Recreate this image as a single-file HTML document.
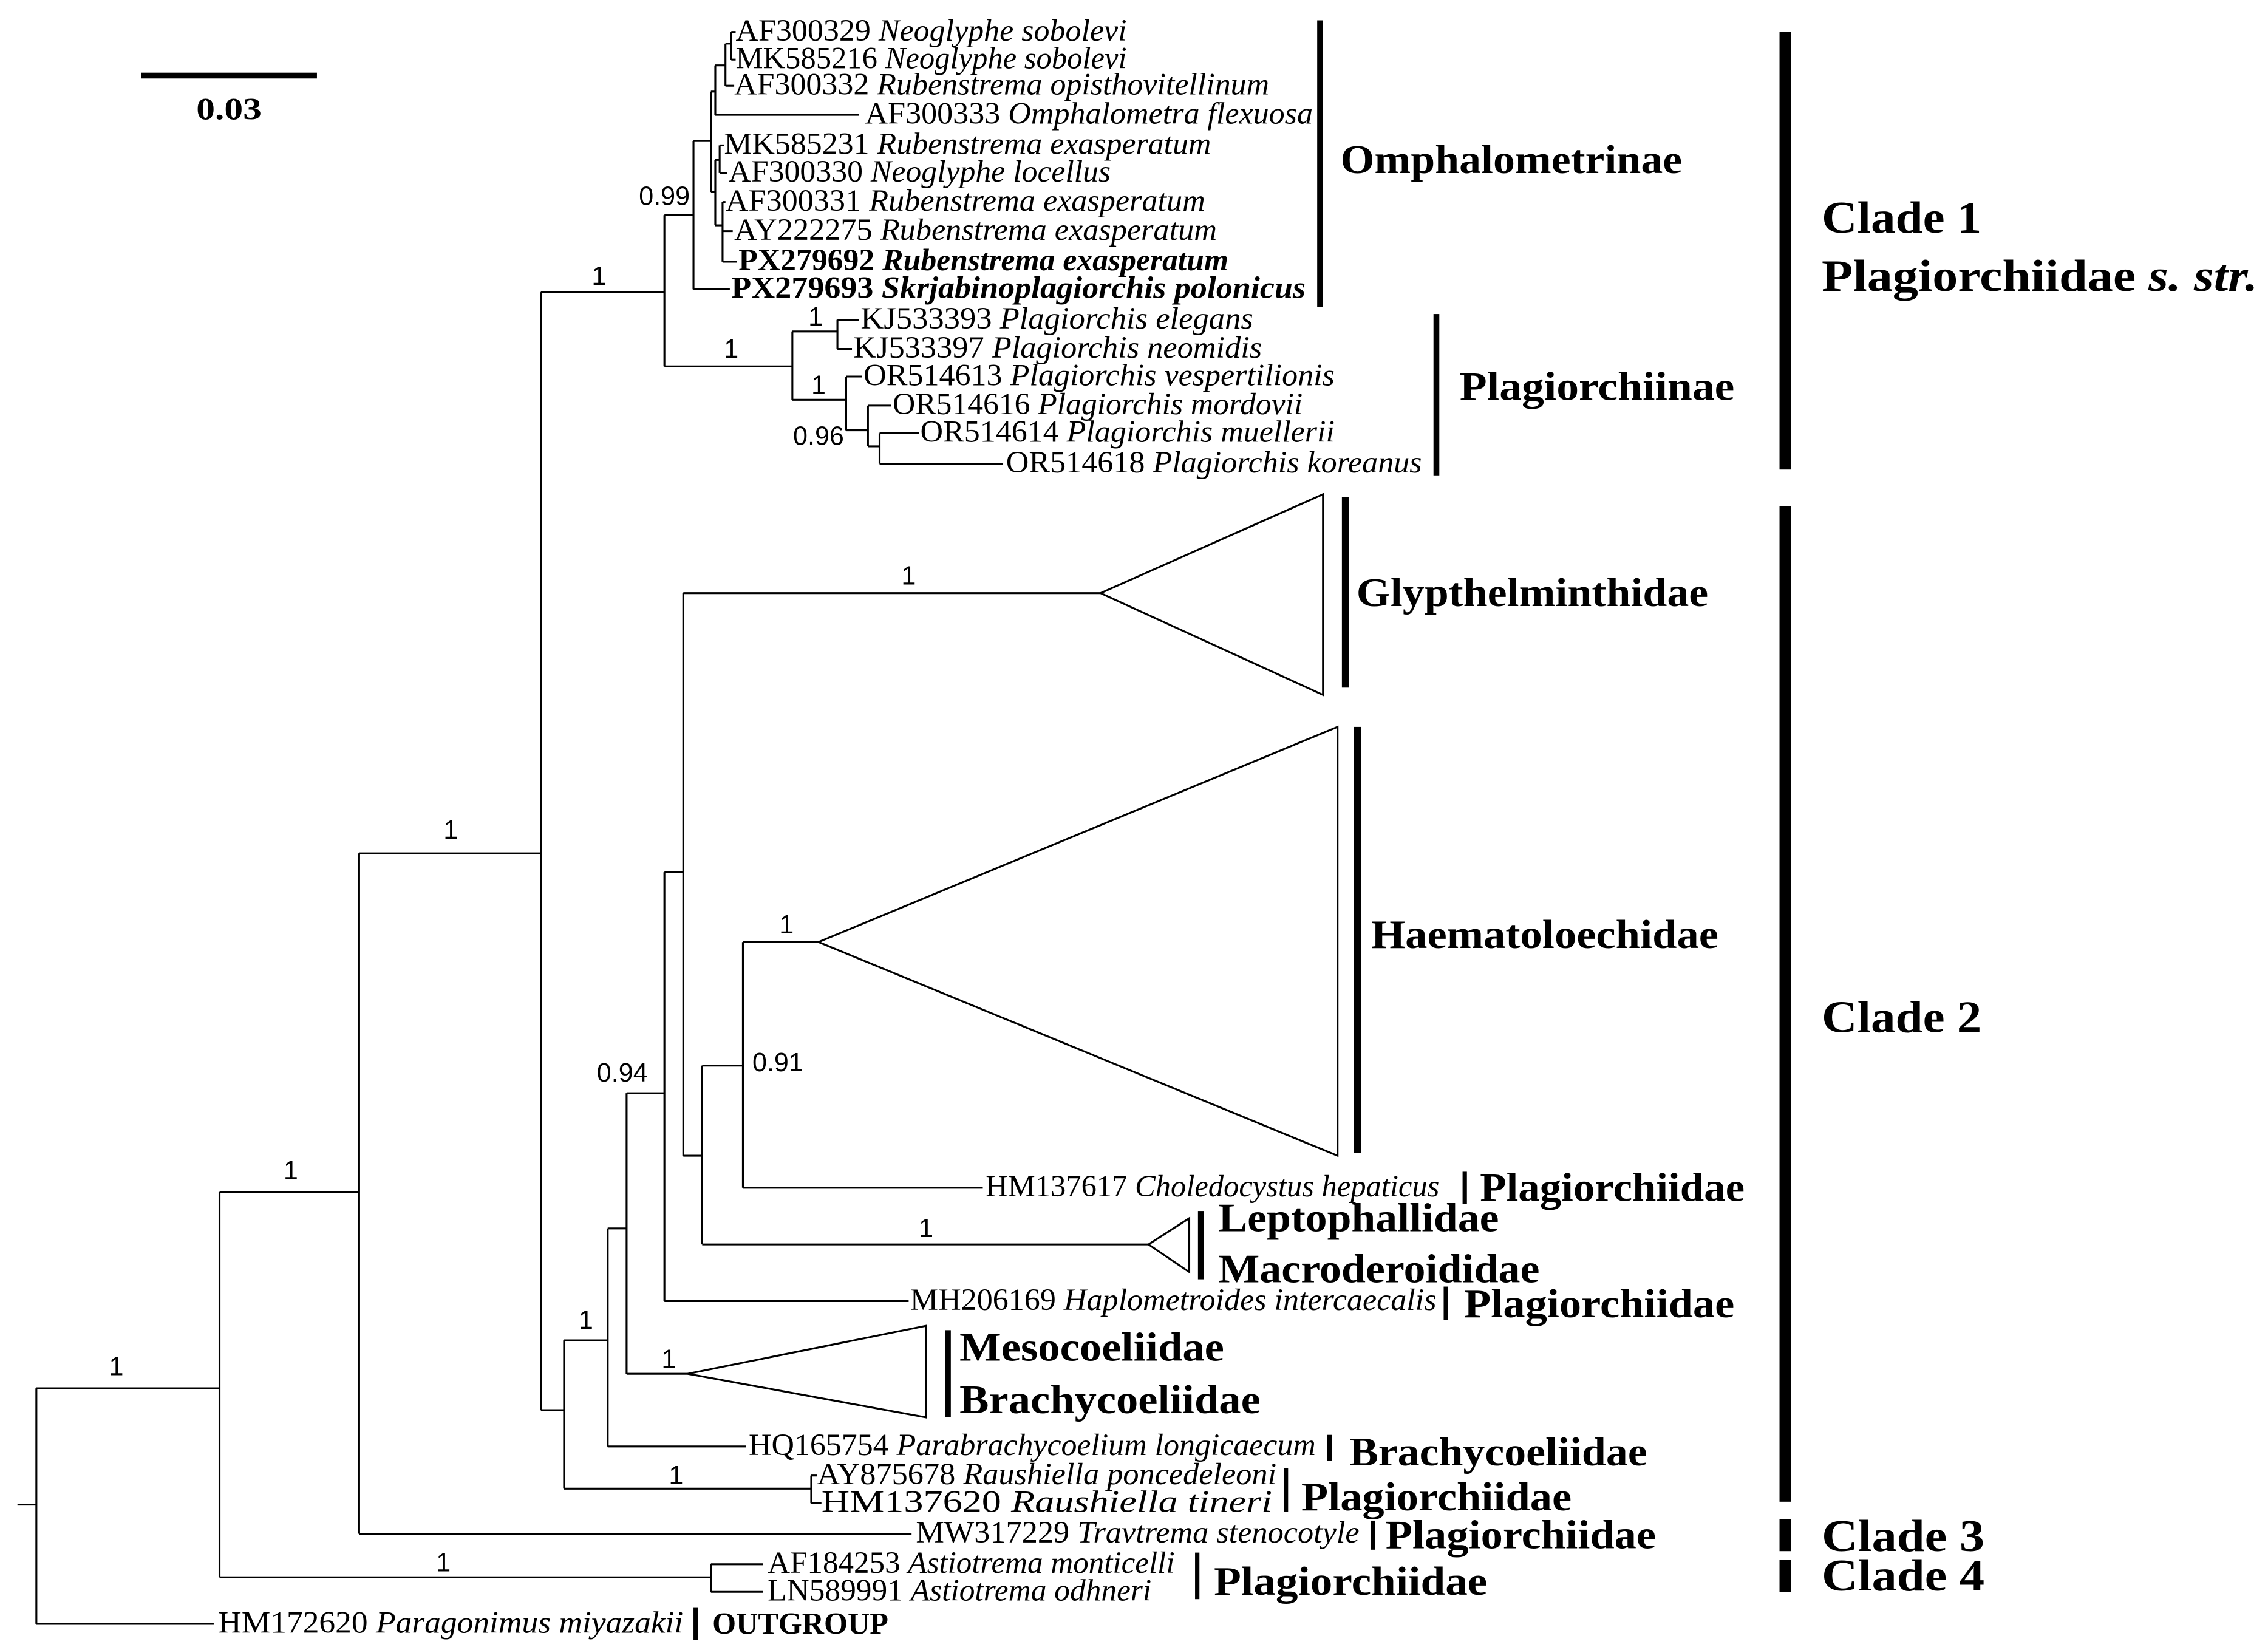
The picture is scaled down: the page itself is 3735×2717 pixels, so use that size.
<!DOCTYPE html>
<html><head><meta charset="utf-8"><style>
html,body{margin:0;padding:0;background:#fff}
svg{display:block}
.t{font-family:"Liberation Serif",serif;font-size:21px}
.i{font-style:italic}
.b{font-weight:bold}
.s{font-family:"Liberation Sans",sans-serif;font-size:18px}
.L{font-family:"Liberation Serif",serif;font-weight:bold;font-size:28px}
.C{font-family:"Liberation Serif",serif;font-weight:bold;font-size:31px}
</style></head><body>
<svg width="3735" height="2717" viewBox="0 0 1560 1135" preserveAspectRatio="none" xmlns="http://www.w3.org/2000/svg">
<g stroke="#000" stroke-width="1.3" fill="none">
<path d="M12 1035H25M25 955V1117M25 1117H147M25 955H151"/>
<path d="M151 820V1085M151 1085H489M489 1076V1095M489 1076H525M489 1095H525"/>
<path d="M151 820H247M247 587V1055M247 1055H627M247 587H372M372 201V970"/>
<path d="M372 201H457M457 148V252M457 148H477M477 97V199M477 199H502M477 97H489"/>
<path d="M489 63V132M489 63H492M492 45V79M492 79H591M492 45H499M499 30V59M499 59H505M499 30H503M503 22V41M503 22H506M503 41H506"/>
<path d="M489 132H492M492 110V155M492 110H495M495 100V119M495 100H498M495 119H500M492 155H497M497 139V180M497 139H499M497 159H504M497 180H507"/>
<path d="M457 252H545M545 228V275M545 228H576M576 220V240M576 220H591M576 240H586M545 275H582M582 259V296M582 259H593M582 296H597M597 279V307M597 279H613M597 307H605M605 298V319M605 298H632M605 319H690"/>
<path d="M372 970H388M388 922V1024M388 1024H558M558 1015V1034M558 1015H562M558 1034H565"/>
<path d="M388 922H418M418 845V995M418 995H513M418 845H431M431 752V945M431 945H473"/>
<path d="M431 752H457M457 600V895M457 895H625M457 600H470M470 408V795M470 408H757M470 795H483M483 733V856M483 856H790M483 733H511M511 648V817M511 817H676M511 648H563"/>
<path d="M757 408L910 340V478Z M563 648L920 500V795Z M790 856L818 838V875Z M473 945L637 912V975Z"/>
</g>
<g fill="#000">
<rect x="97" y="50" width="121" height="4"/>
<rect x="906" y="14" width="4" height="197"/>
<rect x="986" y="216" width="4" height="111"/>
<rect x="1224" y="22" width="8" height="301"/>
<rect x="1224" y="348" width="8" height="685"/>
<rect x="1224" y="1045" width="8" height="22"/>
<rect x="1224" y="1073" width="8" height="22"/>
<rect x="923" y="342" width="5" height="131"/>
<rect x="931" y="500" width="5" height="293"/>
<rect x="1006" y="806" width="3" height="22"/>
<rect x="824" y="833" width="4" height="47"/>
<rect x="993" y="885" width="3" height="23"/>
<rect x="650" y="915" width="4" height="60"/>
<rect x="913" y="987" width="3" height="18"/>
<rect x="883" y="1010" width="3" height="30"/>
<rect x="943" y="1046" width="3" height="20"/>
<rect x="822" y="1068" width="3" height="32"/>
<rect x="477" y="1106" width="3" height="22"/>
</g>
<g class="t">
<text x="506" y="28" textLength="269" lengthAdjust="spacingAndGlyphs">AF300329 <tspan class="i">Neoglyphe sobolevi</tspan></text>
<text x="506" y="47" textLength="269" lengthAdjust="spacingAndGlyphs">MK585216 <tspan class="i">Neoglyphe sobolevi</tspan></text>
<text x="505" y="65" textLength="368" lengthAdjust="spacingAndGlyphs">AF300332 <tspan class="i">Rubenstrema opisthovitellinum</tspan></text>
<text x="595" y="85" textLength="308" lengthAdjust="spacingAndGlyphs">AF300333 <tspan class="i">Omphalometra flexuosa</tspan></text>
<text x="498" y="106" textLength="335" lengthAdjust="spacingAndGlyphs">MK585231 <tspan class="i">Rubenstrema exasperatum</tspan></text>
<text x="501" y="125" textLength="263" lengthAdjust="spacingAndGlyphs">AF300330 <tspan class="i">Neoglyphe locellus</tspan></text>
<text x="499" y="145" textLength="330" lengthAdjust="spacingAndGlyphs">AF300331 <tspan class="i">Rubenstrema exasperatum</tspan></text>
<text x="505" y="165" textLength="332" lengthAdjust="spacingAndGlyphs">AY222275 <tspan class="i">Rubenstrema exasperatum</tspan></text>
<text x="508" y="186" class="b" textLength="337" lengthAdjust="spacingAndGlyphs">PX279692 <tspan class="i">Rubenstrema exasperatum</tspan></text>
<text x="503" y="205" class="b" textLength="395" lengthAdjust="spacingAndGlyphs">PX279693 <tspan class="i">Skrjabinoplagiorchis polonicus</tspan></text>
<text x="592" y="226" textLength="270" lengthAdjust="spacingAndGlyphs">KJ533393 <tspan class="i">Plagiorchis elegans</tspan></text>
<text x="587" y="246" textLength="281" lengthAdjust="spacingAndGlyphs">KJ533397 <tspan class="i">Plagiorchis neomidis</tspan></text>
<text x="594" y="265" textLength="324" lengthAdjust="spacingAndGlyphs">OR514613 <tspan class="i">Plagiorchis vespertilionis</tspan></text>
<text x="614" y="285" textLength="282" lengthAdjust="spacingAndGlyphs">OR514616 <tspan class="i">Plagiorchis mordovii</tspan></text>
<text x="633" y="304" textLength="285" lengthAdjust="spacingAndGlyphs">OR514614 <tspan class="i">Plagiorchis muellerii</tspan></text>
<text x="692" y="325" textLength="286" lengthAdjust="spacingAndGlyphs">OR514618 <tspan class="i">Plagiorchis koreanus</tspan></text>
<text x="678" y="823" textLength="312" lengthAdjust="spacingAndGlyphs">HM137617 <tspan class="i">Choledocystus hepaticus</tspan></text>
<text x="626" y="901" textLength="362" lengthAdjust="spacingAndGlyphs">MH206169 <tspan class="i">Haplometroides intercaecalis</tspan></text>
<text x="515" y="1001" textLength="390" lengthAdjust="spacingAndGlyphs">HQ165754 <tspan class="i">Parabrachycoelium longicaecum</tspan></text>
<text x="562" y="1021" textLength="316" lengthAdjust="spacingAndGlyphs">AY875678 <tspan class="i">Raushiella poncedeleoni</tspan></text>
<text x="565" y="1040" textLength="310" lengthAdjust="spacingAndGlyphs">HM137620 <tspan class="i">Raushiella tineri</tspan></text>
<text x="630" y="1061" textLength="305" lengthAdjust="spacingAndGlyphs">MW317229 <tspan class="i">Travtrema stenocotyle</tspan></text>
<text x="528" y="1082" textLength="280" lengthAdjust="spacingAndGlyphs">AF184253 <tspan class="i">Astiotrema monticelli</tspan></text>
<text x="528" y="1101" textLength="264" lengthAdjust="spacingAndGlyphs">LN589991 <tspan class="i">Astiotrema odhneri</tspan></text>
<text x="150" y="1123" textLength="320" lengthAdjust="spacingAndGlyphs">HM172620 <tspan class="i">Paragonimus miyazakii</tspan></text>
<text x="490" y="1124" class="b" textLength="121" lengthAdjust="spacingAndGlyphs">OUTGROUP</text>
<text x="135" y="82" class="b" textLength="45" lengthAdjust="spacingAndGlyphs">0.03</text>
</g>
<g class="s" text-anchor="middle">
<text x="80" y="946">1</text>
<text x="305" y="1081">1</text>
<text x="200" y="811">1</text>
<text x="310" y="577">1</text>
<text x="412" y="196">1</text>
<text x="457" y="141">0.99</text>
<text x="503" y="246">1</text>
<text x="561" y="224">1</text>
<text x="563" y="271">1</text>
<text x="563" y="306">0.96</text>
<text x="625" y="402">1</text>
<text x="541" y="642">1</text>
<text x="535" y="737">0.91</text>
<text x="428" y="744">0.94</text>
<text x="637" y="851">1</text>
<text x="460" y="941">1</text>
<text x="403" y="914">1</text>
<text x="465" y="1021">1</text>
</g>
<g class="L">
<text x="922" y="119" textLength="235" lengthAdjust="spacingAndGlyphs">Omphalometrinae</text>
<text x="1004" y="275" textLength="189" lengthAdjust="spacingAndGlyphs">Plagiorchiinae</text>
<text x="933" y="417" textLength="242" lengthAdjust="spacingAndGlyphs">Glypthelminthidae</text>
<text x="943" y="652" textLength="239" lengthAdjust="spacingAndGlyphs">Haematoloechidae</text>
<text x="1018" y="826" textLength="182" lengthAdjust="spacingAndGlyphs">Plagiorchiidae</text>
<text x="838" y="847" textLength="193" lengthAdjust="spacingAndGlyphs">Leptophallidae</text>
<text x="838" y="882" textLength="221" lengthAdjust="spacingAndGlyphs">Macroderoididae</text>
<text x="1007" y="906" textLength="186" lengthAdjust="spacingAndGlyphs">Plagiorchiidae</text>
<text x="660" y="936" textLength="182" lengthAdjust="spacingAndGlyphs">Mesocoeliidae</text>
<text x="660" y="972" textLength="207" lengthAdjust="spacingAndGlyphs">Brachycoeliidae</text>
<text x="928" y="1008" textLength="205" lengthAdjust="spacingAndGlyphs">Brachycoeliidae</text>
<text x="895" y="1039" textLength="186" lengthAdjust="spacingAndGlyphs">Plagiorchiidae</text>
<text x="953" y="1065" textLength="186" lengthAdjust="spacingAndGlyphs">Plagiorchiidae</text>
<text x="835" y="1097" textLength="188" lengthAdjust="spacingAndGlyphs">Plagiorchiidae</text>
</g>
<g class="C">
<text x="1253" y="160" textLength="110" lengthAdjust="spacingAndGlyphs">Clade 1</text>
<text x="1253" y="200" textLength="300" lengthAdjust="spacingAndGlyphs">Plagiorchiidae <tspan font-style="italic">s. str.</tspan></text>
<text x="1253" y="710" textLength="110" lengthAdjust="spacingAndGlyphs">Clade 2</text>
<text x="1253" y="1067" textLength="112" lengthAdjust="spacingAndGlyphs">Clade 3</text>
<text x="1253" y="1094" textLength="112" lengthAdjust="spacingAndGlyphs">Clade 4</text>
</g>
</svg>
</body></html>
